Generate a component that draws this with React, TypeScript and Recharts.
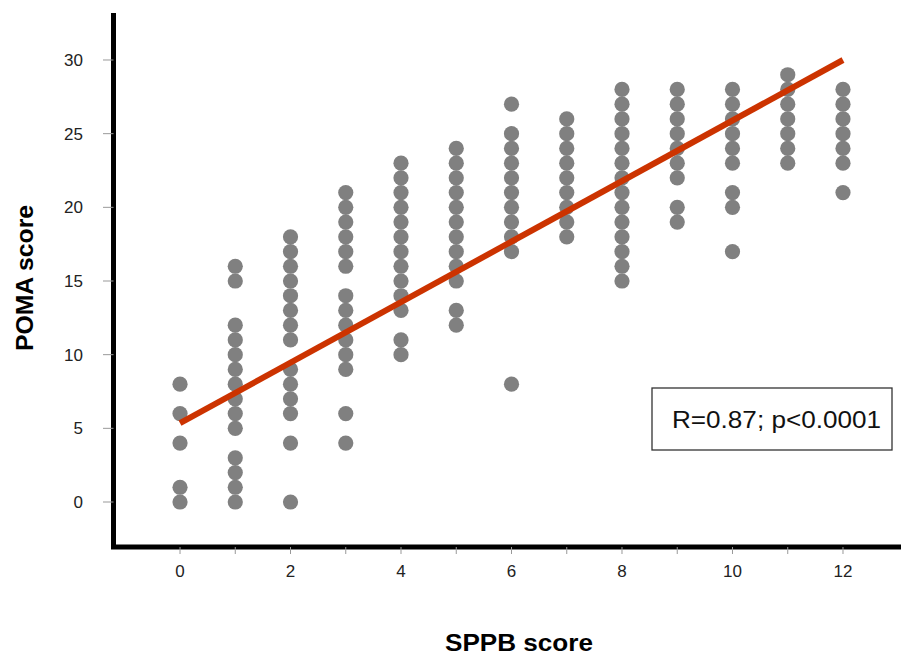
import { ScatterChart, Scatter, XAxis, YAxis, Label, Customized } from "recharts";

// SPPB score ticks (x) and POMA score ticks (y)
const sppbTicks = [0, 1, 2, 3, 4, 5, 6, 7, 8, 9, 10, 11, 12];
const pomaTicks = [0, 5, 10, 15, 20, 25, 30];

// POMA values observed at each SPPB score
const poma0 = [0, 1, 4, 6, 8];
const poma1 = [0, 1, 2, 3, 5, 6, 7, 8, 9, 10, 11, 12, 15, 16];
const poma2 = [0, 4, 6, 7, 8, 9, 11, 12, 13, 14, 15, 16, 17, 18];
const poma3 = [4, 6, 9, 10, 11, 12, 13, 14, 16, 17, 18, 19, 20, 21];
const poma4 = [10, 11, 13, 14, 15, 16, 17, 18, 19, 20, 21, 22, 23];
const poma5 = [12, 13, 15, 16, 17, 18, 19, 20, 21, 22, 23, 24];
const poma6 = [8, 17, 18, 19, 20, 21, 22, 23, 24, 25, 27];
const poma7 = [18, 19, 20, 21, 22, 23, 24, 25, 26];
const poma8 = [15, 16, 17, 18, 19, 20, 21, 22, 23, 24, 25, 26, 27, 28];
const poma9 = [19, 20, 22, 23, 24, 25, 26, 27, 28];
const poma10 = [17, 20, 21, 23, 24, 25, 26, 27, 28];
const poma11 = [23, 24, 25, 26, 27, 28, 29];
const poma12 = [21, 23, 24, 25, 26, 27, 28];

const pomaColumns = [
  poma0, poma1, poma2, poma3, poma4, poma5, poma6,
  poma7, poma8, poma9, poma10, poma11, poma12,
];

// regression line end points
const fitSppb = [0, 12];
const fitPoma = [5.35, 30];

const statText = "R=0.87; p<0.0001";

const points = pomaColumns.flatMap((col, i) =>
  col.map((v) => ({ x: sppbTicks[i], y: v }))
);
const fitData = fitSppb.map((x, i) => ({ x, y: fitPoma[i] }));

const FONT = "'Liberation Sans', Arial, sans-serif";

const Dot = (props: any) => (
  <circle cx={props.cx} cy={props.cy} r={7.6} fill="#808080" />
);

const StatBox = () => (
  <g>
    <rect x={652} y={388} width={240} height={62} fill="#fff" stroke="#333" strokeWidth={1.3} />
    <text
      x={672}
      y={428}
      fontFamily={FONT}
      fontSize={23}
      fill="#111"
      textLength={209}
      lengthAdjust="spacingAndGlyphs"
    >
      {statText}
    </text>
  </g>
);

export default function App() {
  return (
    <div style={{ position: "absolute", left: 0, top: 0, background: "#fff" }}>
      <ScatterChart
        width={901}
        height={655}
        margin={{ top: 13, right: 0, bottom: 0, left: 0 }}
      >
        <XAxis
          type="number"
          dataKey="x"
          domain={[-1.204, 13.05]}
          allowDataOverflow
          ticks={sppbTicks}
          interval={0}
          tickFormatter={(v: number) => (v % 2 === 0 ? String(v) : "")}
          height={108}
          tickSize={7}
          tickMargin={11}
          tickLine={{ stroke: "#999", strokeWidth: 1 }}
          axisLine={{ stroke: "#000", strokeWidth: 5, strokeLinecap: "square" }}
          tick={{ fill: "#222", fontSize: 17, fontFamily: FONT }}
        >
          <Label
            content={() => (
              <text
                x={519}
                y={651}
                textAnchor="middle"
                fontFamily={FONT}
                fontWeight="bold"
                fontSize={23}
                fill="#000"
                textLength={148}
                lengthAdjust="spacingAndGlyphs"
              >
                SPPB score
              </text>
            )}
          />
        </XAxis>
        <YAxis
          type="number"
          dataKey="y"
          domain={[-3.054, 33.19]}
          allowDataOverflow
          ticks={pomaTicks}
          interval={0}
          width={113.5}
          tickSize={10.5}
          tickMargin={20}
          tickLine={{ stroke: "#999", strokeWidth: 1 }}
          axisLine={{ stroke: "#000", strokeWidth: 5 }}
          tick={{ fill: "#222", fontSize: 17, fontFamily: FONT }}
        >
          <Label
            content={() => (
              <text
                x={33}
                y={278}
                transform="rotate(-90 33 278)"
                textAnchor="middle"
                fontFamily={FONT}
                fontWeight="bold"
                fontSize={23}
                fill="#000"
                textLength={146}
                lengthAdjust="spacingAndGlyphs"
              >
                POMA score
              </text>
            )}
          />
        </YAxis>
        <Scatter data={points} shape={Dot} isAnimationActive={false} />
        <Scatter
          data={fitData}
          line={{ stroke: "#cc3300", strokeWidth: 6 }}
          shape={() => <g />}
          isAnimationActive={false}
        />
        <Customized component={StatBox} />
      </ScatterChart>
    </div>
  );
}
